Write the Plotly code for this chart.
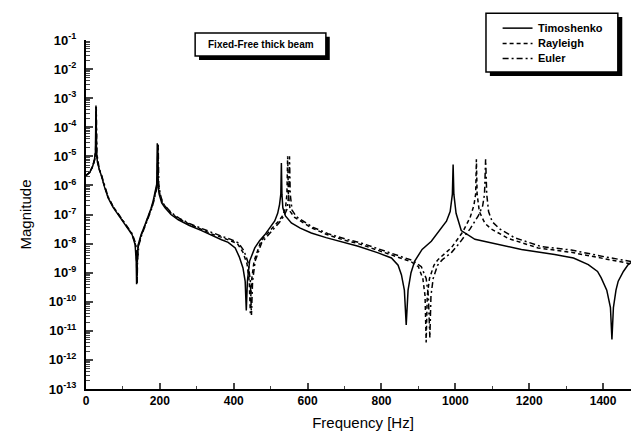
import plotly.graph_objects as go

# ---------------- data ----------------
timo_f = [0, 10, 18, 23, 25.5, 27, 28.5, 31, 36, 41, 50, 60, 73, 87, 100, 114, 125, 133, 136, 137, 138, 141,
          149, 160, 168, 176, 182, 188, 191.5, 193, 194.5, 198, 205, 214, 230, 250, 280, 313, 340, 367, 385,
          404, 415, 425, 431, 434, 437, 443, 457, 470, 484, 497, 511, 519, 524, 527.5, 529, 530.5, 533, 540,
          556, 580, 610, 650, 700, 737, 791, 827, 845, 854, 862, 867, 872, 880, 890, 910, 935, 955, 976, 986,
          992, 994, 996, 1002, 1016, 1053, 1089, 1143, 1179, 1269, 1320, 1360, 1385, 1395, 1410, 1420, 1424,
          1428, 1435, 1441, 1455, 1468, 1500]
timo_m = [2.2e-6, 2.8e-6, 4.5e-6, 7.9e-6, 1.4e-5, 5.6e-4, 1.26e-5, 6.3e-6, 3.5e-6, 2.3e-6, 8.9e-7, 3.7e-7,
          1.8e-7, 1.0e-7, 6.0e-8, 3.5e-8, 2.0e-8, 9.1e-9, 2.5e-9, 4.0e-10, 2.5e-9, 8.9e-9,
          2.0e-8, 4.5e-8, 7.9e-8, 1.6e-7, 3.0e-7, 6.3e-7, 1.1e-6, 2.8e-5, 1.1e-6, 5.0e-7, 2.5e-7, 1.7e-7,
          1.0e-7, 6.6e-8, 4.2e-8, 2.8e-8, 1.9e-8, 1.35e-8, 1.1e-8,
          7.1e-9, 3.5e-9, 1.45e-9, 5.0e-10, 5.0e-11, 5.0e-10, 2.5e-9, 7.1e-9, 1.26e-8, 2.0e-8, 3.5e-8, 6.0e-8,
          1.1e-7, 2.2e-7, 5.0e-7, 5.9e-6, 5.0e-7, 1.7e-7, 8.9e-8,
          5.1e-8, 3.4e-8, 2.3e-8, 1.6e-8, 1.05e-8, 8.1e-9, 4.8e-9, 3.2e-9, 1.8e-9, 8.5e-10, 2.5e-10, 1.6e-11,
          2.5e-10, 1.0e-9, 2.5e-9, 6.3e-9, 1.2e-8, 2.5e-8, 5.9e-8, 1.26e-7,
          5.0e-7, 5.2e-6, 5.0e-7, 1.1e-7, 2.8e-8, 1.4e-8, 1.1e-8, 8.1e-9, 6.3e-9, 4.2e-9, 3.2e-9, 1.9e-9,
          1.1e-9, 6.6e-10, 2.5e-10, 6.3e-11, 5.0e-12,
          6.3e-11, 2.5e-10, 5.1e-10, 1.1e-9, 1.9e-9, 3.7e-9]

rayl_f = [0, 10, 18, 23.5, 26, 27.5, 29, 31.5, 36, 41, 50, 60, 73, 87, 100, 114, 125, 134, 137, 138, 139, 142,
          150, 160, 168, 177, 183, 189, 193, 194.5, 196, 200, 207, 216, 232, 252, 282, 315, 342, 370, 390,
          410, 425, 436, 442, 445, 448, 455, 474, 490, 505, 520, 532, 540, 544, 546, 548, 553, 565, 578,
          610, 650, 700, 737, 770, 809, 850, 880, 900, 912, 918, 921, 924, 930, 942, 953, 975, 989, 1020,
          1040, 1050, 1055, 1057, 1059, 1065, 1080, 1097, 1143, 1224, 1314, 1405, 1477, 1500]
rayl_m = [2.2e-6, 2.8e-6, 4.5e-6, 7.9e-6, 1.4e-5, 5.0e-4, 1.26e-5, 6.3e-6, 3.5e-6, 2.4e-6, 9.3e-7, 3.9e-7,
          1.9e-7, 1.05e-7, 6.3e-8, 3.6e-8, 2.1e-8, 9.1e-9, 2.5e-9, 4.0e-10, 2.5e-9, 8.9e-9,
          2.0e-8, 4.3e-8, 7.6e-8, 1.6e-7, 3.0e-7, 6.3e-7, 1.1e-6, 2.5e-5, 1.1e-6, 5.0e-7, 2.5e-7, 1.8e-7,
          1.05e-7, 7.1e-8, 4.5e-8, 3.0e-8, 2.1e-8, 1.6e-8, 1.3e-8,
          1.0e-8, 5.0e-9, 2.0e-9, 5.0e-10, 4.0e-11, 5.0e-10, 2.5e-9, 1.26e-8, 2.2e-8, 3.5e-8, 5.6e-8, 8.9e-8,
          1.6e-7, 5.0e-7, 1.0e-5, 5.0e-7, 1.26e-7, 7.9e-8, 6.3e-8,
          3.5e-8, 2.1e-8, 1.3e-8, 1.0e-8, 7.1e-9, 4.8e-9, 3.2e-9, 2.4e-9, 1.6e-9, 6.3e-10, 1.6e-10, 4.0e-12,
          1.6e-10, 6.3e-10, 1.8e-9, 2.8e-9, 5.0e-9, 7.1e-9, 2.5e-8,
          7.9e-8, 2.0e-7, 5.0e-7, 7.9e-6, 5.0e-7, 1.26e-7, 5.0e-8, 3.2e-8, 1.5e-8, 7.1e-9, 5.0e-9, 3.0e-9,
          2.0e-9, 1.4e-9]

euler_f = [0, 10, 18, 24, 26.3, 27.8, 29.3, 32, 36, 41, 50, 60, 73, 87, 100, 114, 125, 134.5, 137.5, 138.5,
           139.5, 143, 151, 161, 169, 178, 184, 190, 194, 195.5, 197, 201, 208, 217, 233, 253, 283, 316, 343,
           372, 392, 412, 428, 439, 445, 448, 451, 458, 476, 493, 509, 524, 536, 545, 549, 551, 553, 558, 570,
           585, 615, 655, 705, 745, 780, 815, 855, 885, 908, 921, 927, 931, 934, 940, 952, 965, 990, 1010,
           1040, 1062, 1074, 1079, 1082, 1085, 1090, 1100, 1120, 1160, 1232, 1314, 1405, 1477, 1500]
euler_m = [2.2e-6, 2.8e-6, 4.5e-6, 7.9e-6, 1.4e-5, 5.0e-4, 1.26e-5, 6.3e-6, 3.6e-6, 2.5e-6, 9.5e-7, 4.0e-7,
           1.9e-7, 1.07e-7, 6.5e-8, 3.7e-8, 2.2e-8, 1.0e-8, 2.5e-9, 4.5e-10,
           2.5e-9, 8.9e-9, 2.0e-8, 4.3e-8, 7.6e-8, 1.6e-7, 3.0e-7, 6.3e-7, 1.1e-6, 2.5e-5, 1.1e-6, 5.0e-7,
           2.5e-7, 1.8e-7, 1.1e-7, 7.4e-8, 4.7e-8, 3.2e-8, 2.3e-8,
           1.7e-8, 1.4e-8, 1.07e-8, 5.6e-9, 2.2e-9, 5.0e-10, 3.5e-11, 5.0e-10, 2.5e-9, 1.1e-8, 2.0e-8, 3.3e-8,
           5.4e-8, 8.9e-8, 1.6e-7, 5.0e-7, 1.0e-5, 5.0e-7, 1.4e-7, 8.3e-8,
           6.3e-8, 3.6e-8, 2.2e-8, 1.4e-8, 1.05e-8, 7.6e-9, 5.2e-9, 3.5e-9, 2.6e-9, 1.6e-9, 6.3e-10, 1.6e-10,
           5.8e-12, 1.6e-10, 6.3e-10, 1.8e-9, 2.8e-9, 5.0e-9, 1.0e-8,
           3.2e-8, 8.9e-8, 2.0e-7, 5.0e-7, 7.9e-6, 5.0e-7, 1.26e-7, 5.6e-8, 3.2e-8, 1.6e-8, 7.9e-9, 6.0e-9,
           3.5e-9, 2.4e-9, 1.8e-9]

series_names = ["Timoshenko", "Rayleigh", "Euler"]
x_ticks = [0, 200, 400, 600, 800, 1000, 1200, 1400]
y_tick_vals = [1e-1, 1e-2, 1e-3, 1e-4, 1e-5, 1e-6, 1e-7, 1e-8, 1e-9, 1e-10, 1e-11, 1e-12, 1e-13]
y_tick_text = ["10<sup>-1</sup>", "10<sup>-2</sup>", "10<sup>-3</sup>", "10<sup>-4</sup>", "10<sup>-5</sup>",
               "10<sup>-6</sup>", "10<sup>-7</sup>", "10<sup>-8</sup>", "10<sup>-9</sup>", "10<sup>-10</sup>",
               "10<sup>-11</sup>", "10<sup>-12</sup>", "10<sup>-13</sup>"]
box_label = "Fixed-Free thick beam"

# minor tick positions of the log axis (2..9 within each decade)
y_minor = [d * dec for dec in y_tick_vals[1:] for d in range(2, 10)]

# ---------------- figure ----------------
FONT = "Liberation Sans, Arial, sans-serif"
DASHES = ["solid", "4px,3px", "6px,3px,2px,3px"]

fig = go.Figure()
for name, xs, ys, dash in zip(series_names, [timo_f, rayl_f, euler_f], [timo_m, rayl_m, euler_m], DASHES):
    fig.add_trace(go.Scatter(x=xs, y=ys, mode="lines", name=name, showlegend=False,
                             line=dict(color="black", width=1.5, dash=dash)))

fig.update_layout(
    width=639, height=433,
    margin=dict(l=78, r=7, t=32, b=52),
    paper_bgcolor="white", plot_bgcolor="white",
    font=dict(family=FONT, color="black"),
    showlegend=False,
)

fig.update_xaxes(range=[0, 1500], tickvals=x_ticks, ticks="inside", ticklen=6, tickwidth=1.5,
                 showline=True, linecolor="black", linewidth=2, showgrid=False, zeroline=False,
                 tickfont=dict(size=12, family=FONT, weight="bold"),
                 minor=dict(ticks="inside", ticklen=3, tickwidth=1.2, dtick=100, tick0=0, showgrid=False),
                 title=dict(text="Frequency [Hz]", font=dict(size=15, family=FONT), standoff=10))
fig.update_yaxes(type="log", range=[-13, -1], tickmode="array", tickvals=y_tick_vals, ticktext=y_tick_text,
                 ticks="inside", ticklen=7, tickwidth=1.5, ticklabelstandoff=5,
                 showline=True, linecolor="black", linewidth=2, showgrid=False, zeroline=False,
                 tickfont=dict(size=13, family=FONT, weight="bold"),
                 minor=dict(ticks="inside", ticklen=4, tickwidth=1.2, tickmode="array", tickvals=y_minor,
                            showgrid=False),
                 title=dict(text="Magnitude", font=dict(size=15, family=FONT), standoff=14))

# annotation box with drop shadow
fig.add_shape(type="rect", xref="paper", yref="paper", x0=0.204, x1=0.440, y0=0.943, y1=1.009,
              fillcolor="black", line=dict(width=0), layer="above")
fig.add_shape(type="rect", xref="paper", yref="paper", x0=0.197, x1=0.433, y0=0.954, y1=1.020,
              fillcolor="white", line=dict(color="black", width=1.5), layer="above")
fig.add_annotation(text=box_label, xref="paper", yref="paper", x=0.315, y=0.987,
                   xanchor="center", yanchor="middle", showarrow=False,
                   font=dict(size=10, family=FONT, weight="bold"))

# legend frame with drop shadow, and its entries
fig.add_shape(type="rect", xref="paper", yref="paper", x0=0.729, x1=0.968, y0=0.897, y1=1.066,
              fillcolor="black", line=dict(width=0), layer="above")
fig.add_shape(type="rect", xref="paper", yref="paper", x0=0.722, x1=0.960, y0=0.908, y1=1.077,
              fillcolor="white", line=dict(color="black", width=1.5), layer="above")
legend_rows_y = [1.034, 0.990, 0.947]
for name, dash, ry in zip(series_names, DASHES, legend_rows_y):
    fig.add_shape(type="line", xref="paper", yref="paper", x0=0.752, x1=0.806, y0=ry, y1=ry,
                  line=dict(color="black", width=1.5, dash=dash), layer="above")
    fig.add_annotation(text=name, xref="paper", yref="paper", x=0.812, y=ry,
                       xanchor="left", yanchor="middle", showarrow=False,
                       font=dict(size=11, family=FONT, weight="bold"))

fig.write_html("out.html")
